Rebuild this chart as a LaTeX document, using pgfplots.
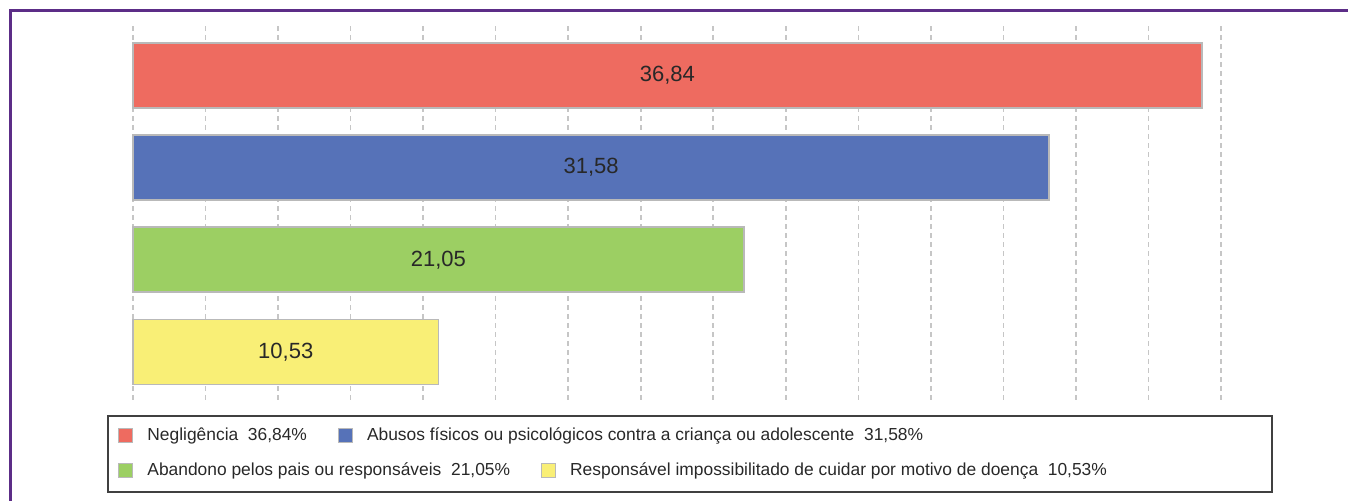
\documentclass[border=0pt]{standalone}
\usepackage{pgfplots}
\pgfplotsset{compat=1.18}
\usepackage{fontspec}
\setmainfont{Liberation Sans}
\definecolor{cRed}{RGB}{238,107,96}
\definecolor{cBlue}{RGB}{86,114,184}
\definecolor{cGreen}{RGB}{156,207,99}
\definecolor{cYellow}{RGB}{249,239,118}
\definecolor{cPurple}{RGB}{92,45,135}
\definecolor{cText}{RGB}{40,40,40}
\begin{document}
\begin{tikzpicture}
\useasboundingbox (0,0) rectangle (674pt,250.5pt);
% frame
\draw[cPurple, line width=1.5pt] (5pt,0) -- (5pt,245pt) -- (674pt,245pt);
\pgfplotsset{
  legstyle/.style={
    legend columns=-1,
    legend image code/.code={\draw[##1, line width=0.5pt] (0pt,-3.5pt) rectangle (7pt,3.5pt);},
    legend style={
      draw=none, fill=none, inner sep=0pt, font=\fontsize{8.7}{10}\selectfont\color{cText},
      nodes={inner sep=0pt},
      /tikz/every odd column/.append style={column sep=7pt},
      /tikz/every even column/.append style={column sep=15.5pt},
      legend cell align=left,
    },
  }
}
\begin{axis}[
  at={(66.5pt,50.5pt)}, anchor=south west,
  scale only axis, width=544pt, height=188.5pt,
  xmin=0, xmax=37.5, ymin=-0.521, ymax=3.570,
  xtick={0,2.5,...,37.5}, xticklabels={}, ytick=\empty,
  xmajorgrids,
  grid style={dash pattern=on 2.5pt off 2pt, gray!45, line width=0.8pt},
  axis line style={draw=none}, tick style={draw=none},
  clip=false,
  xbar, bar shift=0pt, bar width=32.5pt,
  legstyle,
  legend style={at={(axis description cs:0,0)}, anchor=west, xshift=-7.5pt, yshift=-18pt},
]
\addplot[xbar, bar shift=0pt, fill=cRed, draw=gray!55, line width=0.9pt] coordinates {(36.84,3)};
\addlegendentry{Negligência~~36,84\%}
\addplot[xbar, bar shift=0pt, fill=cBlue, draw=gray!55, line width=0.9pt] coordinates {(31.58,2)};
\addlegendentry{Abusos físicos ou psicológicos contra a criança ou adolescente~~31,58\%}
\addplot[xbar, bar shift=0pt, fill=cGreen, draw=gray!55, line width=0.9pt, forget plot] coordinates {(21.05,1)};
\addplot[xbar, bar shift=0pt, fill=cYellow, draw=gray!55, line width=0.9pt, forget plot] coordinates {(10.53,0)};
\node[font=\fontsize{11}{13}\selectfont, text=cText] at (axis cs:18.42,3) {36,84};
\node[font=\fontsize{11}{13}\selectfont, text=cText] at (axis cs:15.79,2) {31,58};
\node[font=\fontsize{11}{13}\selectfont, text=cText] at (axis cs:10.525,1) {21,05};
\node[font=\fontsize{11}{13}\selectfont, text=cText] at (axis cs:5.265,0) {10,53};
\end{axis}
\begin{axis}[
  at={(66.5pt,50.5pt)}, anchor=south west,
  scale only axis, width=544pt, height=188.5pt,
  xmin=0, xmax=1, ymin=0, ymax=1, hide axis,
  legstyle,
  legend style={at={(axis description cs:0,0)}, anchor=west, xshift=-7.5pt, yshift=-35.5pt},
]
\addlegendimage{fill=cGreen, draw=gray!55}
\addlegendentry{Abandono pelos pais ou responsáveis~~21,05\%}
\addlegendimage{fill=cYellow, draw=gray!55}
\addlegendentry{Responsável impossibilitado de cuidar por motivo de doença~~10,53\%}
\end{axis}
% legend frame
\draw[black!75, line width=1.2pt] (54pt,4.5pt) rectangle (636pt,42.5pt);
\end{tikzpicture}
\end{document}
